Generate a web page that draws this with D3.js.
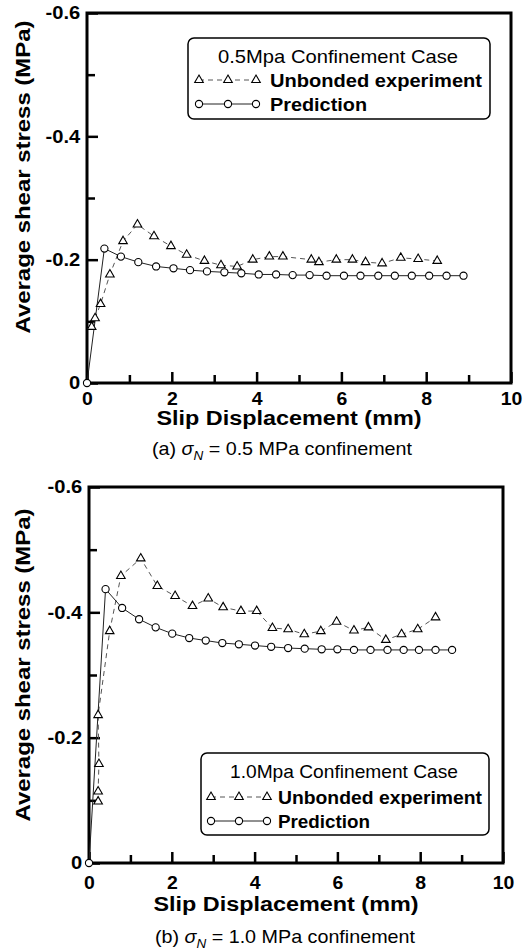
<!DOCTYPE html>
<html>
<head>
<meta charset="utf-8">
<script src="https://cdn.jsdelivr.net/npm/d3@7"></script>
<style>
  body { margin: 0; background: #fff; }
  svg { display: block; font-family: "Liberation Sans", Arial, sans-serif; }
</style>
</head>
<body>
<svg id="chart" width="526" height="951"></svg>
<script>
// panel (a) : 0.5 MPa confinement
const slipA_exp = [0.11, 0.19, 0.32, 0.54, 0.85, 1.19, 1.58, 1.98, 2.35, 2.77, 3.16, 3.54, 3.91, 4.30, 4.62, 5.29, 5.47, 5.88, 6.26, 6.57, 6.96, 7.40, 7.81, 8.26];
const stressA_exp = [-0.091, -0.105, -0.128, -0.176, -0.230, -0.257, -0.238, -0.222, -0.208, -0.198, -0.191, -0.189, -0.200, -0.205, -0.205, -0.200, -0.196, -0.200, -0.200, -0.196, -0.194, -0.203, -0.201, -0.198];
const slipA_pred = [0, 0.41, 0.80, 1.21, 1.63, 2.04, 2.43, 2.83, 3.24, 3.64, 4.05, 4.46, 4.85, 5.25, 5.65, 6.06, 6.45, 6.87, 7.26, 7.66, 8.07, 8.48, 8.88];
const stressA_pred = [0, -0.218, -0.205, -0.196, -0.189, -0.186, -0.183, -0.181, -0.1795, -0.178, -0.176, -0.176, -0.175, -0.175, -0.174, -0.174, -0.174, -0.174, -0.174, -0.174, -0.174, -0.174, -0.174];

// panel (b) : 1.0 MPa confinement
const slipB_exp = [0.22, 0.22, 0.24, 0.22, 0.50, 0.77, 1.25, 1.65, 2.08, 2.50, 2.88, 3.24, 3.67, 4.05, 4.43, 4.81, 5.20, 5.60, 5.98, 6.40, 6.75, 7.17, 7.55, 7.94, 8.37];
const stressB_exp = [-0.098, -0.114, -0.158, -0.236, -0.370, -0.458, -0.486, -0.442, -0.426, -0.410, -0.422, -0.408, -0.402, -0.402, -0.375, -0.373, -0.365, -0.370, -0.385, -0.371, -0.376, -0.356, -0.365, -0.373, -0.392];
const slipB_pred = [0, 0.40, 0.80, 1.21, 1.61, 2.01, 2.42, 2.82, 3.22, 3.62, 4.01, 4.40, 4.81, 5.21, 5.62, 6.00, 6.40, 6.80, 7.21, 7.60, 7.97, 8.37, 8.77];
const stressB_pred = [0, -0.437, -0.407, -0.389, -0.376, -0.366, -0.359, -0.355, -0.351, -0.349, -0.347, -0.345, -0.343, -0.342, -0.341, -0.341, -0.340, -0.340, -0.340, -0.340, -0.340, -0.340, -0.340];

const xTicks = [0, 2, 4, 6, 8, 10];
const xMinorTicks = [1, 3, 5, 7, 9];
const yTicks = [0, -0.2, -0.4, -0.6];
const yTickLabels = ["0", "-0.2", "-0.4", "-0.6"];
const yMinorTicks = [-0.1, -0.3, -0.5];
const seriesNames = ["Unbonded experiment", "Prediction"];
const legendTitles = ["0.5Mpa Confinement Case", "1.0Mpa Confinement Case"];
const captionLetters = ["(a)", "(b)"];
const captionValues = ["0.5", "1.0"];

const svg = d3.select("#chart");

function zip(xs, ys) {
    return xs.map((x, i) => ({x: x, y: ys[i]}));
}

function drawPanel(p) {
    const x = d3.scaleLinear().domain([0, 10]).range([p.left, p.right]);
    const y = d3.scaleLinear().domain([0, -0.6]).range([p.bottom, p.top]);
    const g = svg.append("g");

    // ticks point inward
    const xAxis = g.append("g")
        .attr("transform", "translate(0," + p.bottom + ")")
        .call(d3.axisBottom(x).tickValues(xTicks).tickSize(-11).tickPadding(6).tickFormat(d3.format("d")));
    g.append("g")
        .attr("transform", "translate(0," + p.bottom + ")")
        .call(d3.axisBottom(x).tickValues(xMinorTicks).tickSize(-8).tickFormat(""));
    const yAxis = g.append("g")
        .attr("transform", "translate(" + p.left + ",0)")
        .call(d3.axisLeft(y).tickValues(yTicks).tickSize(-11).tickPadding(6)
            .tickFormat((d, i) => yTickLabels[i]));
    g.append("g")
        .attr("transform", "translate(" + p.left + ",0)")
        .call(d3.axisLeft(y).tickValues(yMinorTicks).tickSize(-8).tickFormat(""));

    g.selectAll(".domain").remove();
    g.selectAll(".tick line").attr("stroke", "#000").attr("stroke-width", 2.5);
    g.selectAll(".tick text")
        .attr("fill", "#000")
        .style("font-size", "18px")
        .style("font-weight", "bold")
        .style("font-family", "'Liberation Sans', Arial, sans-serif");
    xAxis.selectAll(".tick text").attr("dy", null).attr("y", p.tickBaseline - p.bottom)
        .attr("transform", "scale(1.08,1)");
    yAxis.selectAll(".tick text").attr("transform", "scale(1.12,1)");

    g.append("rect")
        .attr("x", p.left)
        .attr("y", p.top)
        .attr("width", p.right - p.left)
        .attr("height", p.bottom - p.top)
        .attr("fill", "none")
        .attr("stroke", "#000")
        .attr("stroke-width", 3);

    // experiment: dashed line + triangles
    const line = d3.line().x(d => x(d.x)).y(d => y(d.y));
    const exp = zip(p.slipExp, p.stressExp);
    const pred = zip(p.slipPred, p.stressPred);
    g.append("path")
        .attr("d", line(exp))
        .attr("fill", "none")
        .attr("stroke", "#555")
        .attr("stroke-width", 1)
        .attr("stroke-dasharray", "5,4");
    g.append("path")
        .attr("d", line(pred))
        .attr("fill", "none")
        .attr("stroke", "#222")
        .attr("stroke-width", 1);

    const tri = d3.symbol().type(d3.symbolTriangle).size(32);
    g.selectAll(".tri")
        .data(exp)
        .join("path")
        .attr("class", "tri")
        .attr("transform", d => "translate(" + x(d.x) + "," + y(d.y) + ")")
        .attr("d", tri)
        .attr("fill", "#fff")
        .attr("stroke", "#000")
        .attr("stroke-width", 1.1);
    g.selectAll(".circ")
        .data(pred)
        .join("circle")
        .attr("class", "circ")
        .attr("cx", d => x(d.x))
        .attr("cy", d => y(d.y))
        .attr("r", 3.6)
        .attr("fill", "#fff")
        .attr("stroke", "#000")
        .attr("stroke-width", 1.1);

    // axis titles
    g.append("text")
        .attr("x", (p.left + p.right) / 2 - 10)
        .attr("y", p.xTitleBaseline)
        .attr("text-anchor", "middle")
        .attr("textLength", 265)
        .attr("lengthAdjust", "spacingAndGlyphs")
        .style("font-size", "20px")
        .style("font-weight", "bold")
        .text("Slip Displacement (mm)");
    g.append("text")
        .attr("transform", "translate(30," + p.yTitleCenter + ") rotate(-90)")
        .attr("text-anchor", "middle")
        .attr("textLength", 313)
        .attr("lengthAdjust", "spacingAndGlyphs")
        .style("font-size", "20px")
        .style("font-weight", "bold")
        .text("Average shear stress (MPa)");

    // caption
    const cap = g.append("text")
        .attr("x", p.captionX)
        .attr("y", p.captionBaseline)
        .attr("textLength", 260)
        .attr("lengthAdjust", "spacingAndGlyphs")
        .style("font-size", "19px");
    cap.append("tspan").text(captionLetters[p.index] + " ");
    cap.append("tspan").style("font-style", "italic").text("\u03c3");
    cap.append("tspan").style("font-style", "italic").style("font-size", "13px").attr("dy", 5).text("N");
    cap.append("tspan").attr("dy", -5).text(" = " + captionValues[p.index] + " MPa confinement");

    // legend
    const L = p.legend;
    const lg = g.append("g");
    lg.append("rect")
        .attr("x", L.x0).attr("y", L.y0)
        .attr("width", L.x1 - L.x0).attr("height", L.y1 - L.y0)
        .attr("rx", 6)
        .attr("fill", "#fff")
        .attr("stroke", "#000")
        .attr("stroke-width", 1.5);
    lg.append("text")
        .attr("x", L.titleX)
        .attr("y", L.titleY)
        .attr("text-anchor", "middle")
        .attr("textLength", L.titleW)
        .attr("lengthAdjust", "spacingAndGlyphs")
        .style("font-size", "19px")
        .text(legendTitles[p.index]);
    seriesNames.forEach((name, i) => {
        const ry = L.rowY[i];
        lg.append("line")
            .attr("x1", L.sx[0]).attr("x2", L.sx[2])
            .attr("y1", ry).attr("y2", ry)
            .attr("stroke", i === 0 ? "#555" : "#222")
            .attr("stroke-dasharray", i === 0 ? "5,4" : null);
        L.sx.forEach(sx => {
            if (i === 0) {
                lg.append("path")
                    .attr("transform", "translate(" + sx + "," + ry + ")")
                    .attr("d", tri)
                    .attr("fill", "#fff").attr("stroke", "#000").attr("stroke-width", 1.1);
            } else {
                lg.append("circle")
                    .attr("cx", sx).attr("cy", ry).attr("r", 3.6)
                    .attr("fill", "#fff").attr("stroke", "#000").attr("stroke-width", 1.1);
            }
        });
        lg.append("text")
            .attr("x", L.textX)
            .attr("y", ry + 7)
            .attr("textLength", L.textW[i])
            .attr("lengthAdjust", "spacingAndGlyphs")
            .style("font-size", "19px")
            .style("font-weight", "bold")
            .text(name);
    });
}

drawPanel({
    index: 0,
    left: 87, right: 511, top: 13, bottom: 383,
    tickBaseline: 405, xTitleBaseline: 425, yTitleCenter: 177,
    captionX: 152, captionBaseline: 455,
    slipExp: slipA_exp, stressExp: stressA_exp,
    slipPred: slipA_pred, stressPred: stressA_pred,
    legend: {x0: 188, x1: 490, y0: 38, y1: 119, titleX: 338, titleY: 63, titleW: 240,
             rowY: [80, 104], sx: [199, 228, 256], textX: 270, textW: [212, 97]}
});

drawPanel({
    index: 1,
    left: 89, right: 503, top: 487, bottom: 863,
    tickBaseline: 889, xTitleBaseline: 911, yTitleCenter: 665,
    captionX: 155, captionBaseline: 943,
    slipExp: slipB_exp, stressExp: stressB_exp,
    slipPred: slipB_pred, stressPred: stressB_pred,
    legend: {x0: 201, x1: 489, y0: 753, y1: 835, titleX: 344, titleY: 778, titleW: 228,
             rowY: [797, 821], sx: [211, 239, 267], textX: 278, textW: [204, 92]}
});
</script>
</body>
</html>
